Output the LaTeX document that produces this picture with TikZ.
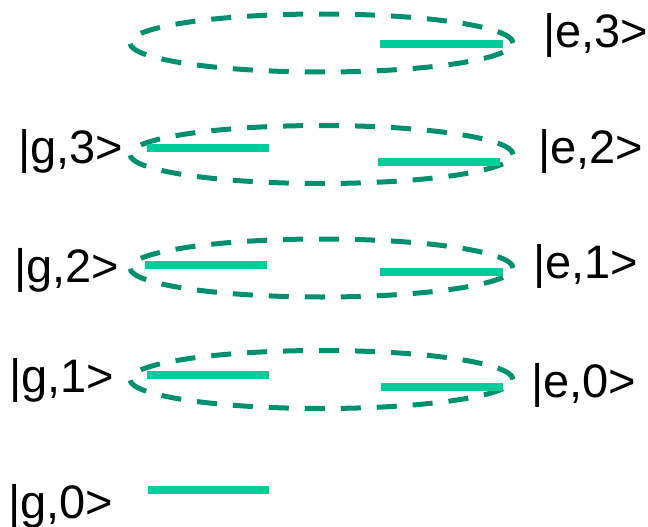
\documentclass[tikz,border=0pt]{standalone}
\usepackage{fontspec}
\setmainfont{Liberation Sans}
\usepackage{tikz}
\usetikzlibrary{positioning, shapes.geometric}
\definecolor{pairgreen}{HTML}{00906E}
\definecolor{levelgreen}{HTML}{00CC99}

\begin{document}
\begin{tikzpicture}[
    x=1pt, y=-1pt,
    % 1. NIVELES DE ENERGIA
    level/.style={line width=7.5pt, color=levelgreen},
    % 2. PARES ACOPLADOS (elipses discontinuas)
    pair/.style={
        ellipse, draw=pairgreen, line width=5pt,
        dash pattern=on 20pt off 16pt,
        minimum width=383pt, minimum height=58pt, inner sep=0pt
    },
    % 3. ETIQUETAS DE ESTADO
    ket/.style={
        anchor=base west, inner sep=0pt,
        font=\fontsize{47}{56}\selectfont
    }
]
    \useasboundingbox (0,0) rectangle (648,527);

    % --- PARES |g,n+1> <-> |e,n> ---
    \node[pair] (pair3) at (321.5, 43)    {};
    \node[pair] (pair2) at (321.5, 154.5) {};
    \node[pair] (pair1) at (321.5, 268)   {};
    \node[pair] (pair0) at (321.5, 379.5) {};

    % --- NIVELES FUNDAMENTALES (izquierda) ---
    \draw[level] (147, 148) -- (269, 148);
    \draw[level] (145, 265) -- (267, 265);
    \draw[level] (147, 375) -- (269, 375);
    \draw[level] (148, 490) -- (269, 490);

    % --- NIVELES EXCITADOS (derecha) ---
    \draw[level] (380, 44)  -- (503, 44);
    \draw[level] (378, 162) -- (500, 162);
    \draw[level] (380, 272) -- (503, 272);
    \draw[level] (381, 387) -- (503, 387);

    % --- ETIQUETAS ---
    \node[ket] (ketg3) at (18, 163) {|g,3>};
    \node[ket] (ketg2) at (14, 282) {|g,2>};
    \node[ket] (ketg1) at (9, 392)  {|g,1>};
    \node[ket] (ketg0) at (8, 518)  {|g,0>};

    \node[ket] (kete3) at (543, 48)  {|e,3>};
    \node[ket] (kete2) at (538, 163) {|e,2>};
    \node[ket] (kete1) at (533, 278) {|e,1>};
    \node[ket] (kete0) at (531, 397) {|e,0>};

\end{tikzpicture}
\end{document}
